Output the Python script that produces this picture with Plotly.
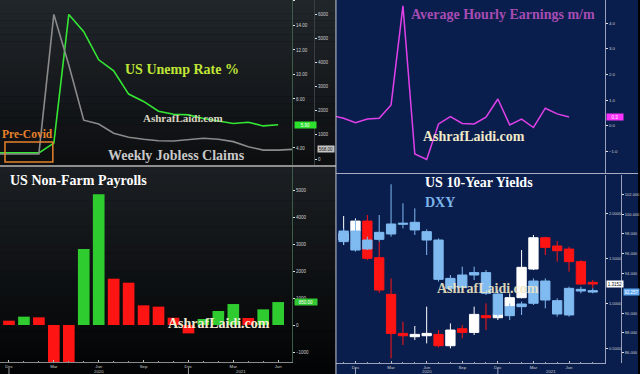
import plotly.graph_objects as go

W, H = 640, 374


def fx(p):
    return p / W


def fy(p):
    return 1 - p / H


# ---------------- data ----------------
months = ["Oct 2019", "Nov 2019", "Dec 2019", "Jan 2020", "Feb 2020", "Mar 2020",
          "Apr 2020", "May 2020", "Jun 2020", "Jul 2020", "Aug 2020", "Sep 2020",
          "Oct 2020", "Nov 2020", "Dec 2020", "Jan 2021", "Feb 2021", "Mar 2021",
          "Apr 2021", "May 2021", "Jun 2021", "Jul 2021", "Aug 2021"]
pos = {m: i for i, m in enumerate(months)}

tick_months = ["Dec 2019", "Mar 2020", "Jun 2020", "Sep 2020", "Dec 2020", "Mar 2021", "Jun 2021"]
tick_labels = ["Dec", "Mar", "Jun", "Sep", "Dec", "Mar", "Jun"]

# US unemployment rate % (Nov 2019 .. Jun 2021)
unemp_months = months[1:21]
unemp_rate = [3.6, 3.6, 3.6, 3.6, 4.4, 14.9, 13.5, 11.2, 10.3, 8.4, 7.8, 7.0,
              6.75, 6.7, 6.4, 6.2, 6.0, 6.1, 5.8, 5.9]

# Weekly jobless claims, thousands (Nov 2019 .. Jul 2021)
claims_months = months[1:22]
jobless_claims = [210, 210, 210, 210, 6000, 3900, 1610, 1450, 1070, 900, 820, 760,
                  750, 790, 860, 820, 720, 510, 370, 370, 400]

# Non-farm payrolls change, thousands (Dec 2019 .. Jun 2021)
nfp_months = months[2:21]
nfp = [160, 310, 285, -1373, -20500, 2815, 4840, 1715, 1567, 730, 680, 270,
       -310, 222, 518, 777, 260, 580, 850]
nfp_prior = 261  # Nov 2019

# Average hourly earnings m/m % (Oct 2019 .. Jun 2021)
ahe_months = months[0:21]
ahe = [0.4, 0.3, 0.13, 0.27, 0.30, 0.82, 4.67, -1.09, -1.30, 0.08, 0.36, 0.10,
       0.08, 0.34, 1.05, 0.04, 0.27, -0.06, 0.69, 0.47, 0.35]

# Monthly candles (Nov 2019 .. Aug 2021)
candle_months = months[1:23]
yld_open = [1.703, 1.803, 1.914, 1.507, 1.100, 0.666, 0.629, 0.640, 0.655, 0.529, 0.718,
            0.677, 0.863, 0.840, 0.963, 1.063, 1.381, 1.729, 1.637, 1.603, 1.463, 1.233]
yld_close = [1.777, 1.914, 1.500, 1.148, 0.666, 0.640, 0.655, 0.666, 0.529, 0.703, 0.677,
             0.877, 0.840, 0.881, 1.063, 1.400, 1.729, 1.622, 1.585, 1.463, 1.214, 1.214]
yld_high = [1.970, 1.944, 1.981, 1.685, 1.277, 0.796, 0.748, 0.963, 0.703, 0.777, 0.759,
            0.963, 1.000, 1.074, 1.111, 1.592, 1.759, 1.740, 1.692, 1.629, 1.481, 1.259]
yld_low = [1.648, 1.777, 1.481, 1.118, 0.389, 0.537, 0.592, 0.555, 0.511, 0.500, 0.611,
           0.648, 0.703, 0.814, 0.955, 1.055, 1.370, 1.537, 1.463, 1.351, 1.203, 1.166]

dxy_open = [97.22, 98.29, 96.48, 97.45, 97.99, 98.97, 99.17, 98.23, 97.38, 93.51, 92.60,
            93.85, 94.09, 91.93, 89.74, 90.65, 90.99, 93.24, 91.26, 89.81, 92.40, 92.27]
dxy_close = [98.29, 96.37, 97.38, 98.16, 99.00, 99.07, 98.40, 97.38, 93.41, 92.50, 93.85,
             94.09, 92.00, 89.88, 90.65, 90.92, 93.24, 91.32, 89.91, 92.50, 92.23, 92.13]
dxy_high = [98.56, 99.41, 97.72, 99.91, 103.01, 101.09, 100.58, 98.46, 97.55, 93.85, 94.69,
            94.69, 94.35, 92.33, 90.99, 91.16, 93.51, 93.51, 91.49, 92.67, 92.67, 92.50]
dxy_low = [96.88, 96.21, 96.37, 97.22, 97.72, 98.56, 97.89, 95.87, 93.18, 92.27, 92.33,
           93.34, 91.83, 89.64, 89.30, 89.81, 90.82, 90.48, 89.64, 89.64, 92.00, 92.00]

badge_unemp = "5.90"
badge_claims = "568.00"
badge_nfp = "850.00"
badge_ahe = "0.3"
badge_yld = "1.3152"
badge_dxy = "92.257"

# ---------------- colours ----------------
GREEN = "#35e635"
RED = "#ff1414"
BLUE = "#7fbaf0"
NAVY = "#0a1e4e"
SERIF = "Liberation Serif, Times New Roman, serif"
SANS = "Liberation Sans, Arial, sans-serif"

fig = go.Figure()

# top-left
fig.add_trace(go.Scatter(x=[pos[m] for m in unemp_months], y=unemp_rate, mode="lines",
                         line=dict(color=GREEN, width=1.6), xaxis="x", yaxis="y"))
fig.add_trace(go.Scatter(x=[pos[m] for m in claims_months], y=jobless_claims, mode="lines",
                         line=dict(color="#8a8a8a", width=1.6), xaxis="x", yaxis="y2"))

# bottom-left bars (green when higher than previous month, red otherwise)
prev = [nfp_prior] + nfp[:-1]
bar_colors = ["#2fcc2f" if v > p else RED for v, p in zip(nfp, prev)]
fig.add_trace(go.Bar(x=[pos[m] for m in nfp_months], y=nfp, width=0.78,
                     marker=dict(color=bar_colors, line=dict(width=0)),
                     xaxis="x2", yaxis="y3"))

# top-right
fig.add_trace(go.Scatter(x=[pos[m] for m in ahe_months], y=ahe, mode="lines",
                         line=dict(color="#e040e8", width=1.5), xaxis="x3", yaxis="y4"))

# bottom-right candles
cx = [pos[m] for m in candle_months]
fig.add_trace(go.Candlestick(x=cx, open=yld_open, high=yld_high, low=yld_low, close=yld_close,
                             increasing=dict(line=dict(color="#ffffff", width=1), fillcolor="#ffffff"),
                             decreasing=dict(line=dict(color=RED, width=1), fillcolor=RED),
                             whiskerwidth=0, xaxis="x4", yaxis="y5"))
fig.add_trace(go.Candlestick(x=cx, open=dxy_open, high=dxy_high, low=dxy_low, close=dxy_close,
                             increasing=dict(line=dict(color=BLUE, width=1), fillcolor=BLUE),
                             decreasing=dict(line=dict(color=BLUE, width=1), fillcolor=BLUE),
                             whiskerwidth=0, xaxis="x4", yaxis="y6"))

# ---------------- axes ----------------
left_range = [1.4, 20.93]
right_range = [0.353, 23.04]


def tickfont(size=4.5):
    return dict(family=SANS, size=size, color="#d0d0d0")


base_y = dict(showgrid=False, zeroline=False, ticks="outside", ticklen=2, tickwidth=1,
              tickcolor="#e0e0e0", side="right")

xaxis_hidden = dict(showgrid=False, zeroline=False, showticklabels=False, ticks="",
                    showline=False, fixedrange=True)

xaxis_labelled = dict(showgrid=False, zeroline=False, ticks="inside", ticklen=2,
                      tickcolor="#c0c0c0", tickvals=[pos[m] for m in tick_months],
                      ticktext=tick_labels, tickfont=tickfont(4.3), showline=True,
                      linewidth=1,
                      minor=dict(dtick=1, tick0=0, ticks="inside", ticklen=1.5,
                                 tickcolor="#a0a0a0"))

fig.update_layout(
    width=W, height=H, margin=dict(l=0, r=0, t=0, b=0),
    paper_bgcolor="#000000", plot_bgcolor="rgba(0,0,0,0)",
    showlegend=False, boxgap=0.215, boxgroupgap=0, bargap=0.22,
    xaxis=dict(xaxis_hidden, domain=[0, fx(293)], range=left_range, anchor="y"),
    yaxis=dict(base_y, domain=[fy(165), 1], range=[2.61, 16.08], anchor="x",
               tickvals=[4, 8, 10, 12, 14, 16], tickformat=".2f", tickfont=tickfont(4.5),
               showline=True, linecolor="#3d5c46", linewidth=1),
    yaxis2=dict(base_y, overlaying="y", anchor="free", position=fx(315),
                range=[-249, 6598], tickvals=[0, 1000, 2000, 3000, 4000, 5000, 6000],
                tickformat="d", tickfont=tickfont(4.5), showline=True,
                linecolor="#3a3f44", linewidth=1),
    xaxis2=dict(xaxis_labelled, domain=[0, fx(293)], range=left_range, anchor="y3",
                linecolor="#8a8a8a"),
    yaxis3=dict(base_y, domain=[fy(362), fy(167)], range=[-1370, 5852], anchor="x2",
                tickvals=[-1000, 0, 1000, 2000, 3000, 4000, 5000], tickformat="d",
                tickfont=tickfont(4.5), showline=True, linecolor="#3d5c46", linewidth=1),
    xaxis3=dict(xaxis_hidden, domain=[fx(337), fx(607)], range=right_range, anchor="y4"),
    yaxis4=dict(base_y, domain=[fy(173), 1], range=[-1.83, 4.90], anchor="x3",
                tickvals=[-1, 0, 1, 2, 3, 4], tickformat=".1f", tickfont=tickfont(4.3),
                showline=True, linecolor="#9aa2bc", linewidth=1),
    xaxis4=dict(xaxis_labelled, domain=[fx(337), fx(607)], range=right_range, anchor="y5",
                linecolor="#9aa2bc", rangeslider=dict(visible=False)),
    yaxis5=dict(base_y, domain=[fy(363), fy(175)], range=[0.337, 2.426], anchor="x4",
                tickvals=[0.5, 1.0, 1.5, 2.0], tickformat=".4f", tickfont=tickfont(4),
                showline=True, linecolor="#9aa2bc", linewidth=1),
    yaxis6=dict(base_y, overlaying="y5", anchor="free", position=fx(623),
                range=[84.96, 103.95], tickvals=[86, 88, 90, 94, 96, 98, 100, 102],
                tickformat=".3f", tickfont=tickfont(4), showline=True,
                linecolor="#9aa2bc", linewidth=1),
)

# ---------------- backgrounds (shapes below traces) ----------------
shapes = []


def band(x0, x1, y0, y1, c0, c1, n=24):
    out = []
    for k in range(n):
        t = k / (n - 1)
        c = tuple(int(round(a + (b - a) * t)) for a, b in zip(c0, c1))
        ya = y0 + (y1 - y0) * k / n
        yb = y0 + (y1 - y0) * (k + 1) / n
        out.append(dict(type="rect", xref="paper", yref="paper", layer="below",
                        x0=fx(x0), x1=fx(x1), y0=fy(yb), y1=fy(ya) + 0.001,
                        fillcolor="rgb(%d,%d,%d)" % c, line=dict(width=0)))
    return out


shapes += band(0, 337, 0, 166, (33, 38, 43), (12, 14, 16))
shapes += band(0, 337, 166, 374, (27, 31, 35), (3, 4, 5))
shapes.append(dict(type="rect", xref="paper", yref="paper", layer="below",
                   x0=fx(337), x1=1, y0=0, y1=1, fillcolor=NAVY, line=dict(width=0)))
# separators
shapes.append(dict(type="line", xref="paper", yref="paper", x0=0, x1=fx(337),
                   y0=fy(166), y1=fy(166), line=dict(color="#8e8e8e", width=2)))
shapes.append(dict(type="line", xref="paper", yref="paper", x0=fx(337), x1=fx(337),
                   y0=0, y1=1, line=dict(color="#c8ccd4", width=1)))
shapes.append(dict(type="line", xref="paper", yref="paper", x0=fx(337), x1=1,
                   y0=fy(173.5), y1=fy(173.5), line=dict(color="#a8aec0", width=1)))
# year separator ticks
for m in ["Dec 2019", "Dec 2020"]:
    shapes.append(dict(type="line", xref="x2", yref="paper", x0=pos[m], x1=pos[m],
                       y0=fy(374), y1=fy(368), line=dict(color="#9a9a9a", width=1)))
    shapes.append(dict(type="line", xref="x4", yref="paper", x0=pos[m], x1=pos[m],
                       y0=fy(374), y1=fy(368), line=dict(color="#9aa2bc", width=1)))
# Pre-Covid box
shapes.append(dict(type="rect", xref="paper", yref="paper", x0=fx(5), x1=fx(53),
                   y0=fy(162), y1=fy(142), line=dict(color="#e8822c", width=1.5)))
fig.update_layout(shapes=shapes)

# ---------------- annotations ----------------
ann = []


def label(text, x, y, color, size=14, xanchor="center", opacity=1.0):
    ann.append(dict(text="<b>%s</b>" % text, x=fx(x), y=fy(y), xref="paper", yref="paper",
                    xanchor=xanchor, yanchor="middle", showarrow=False, opacity=opacity,
                    font=dict(family=SERIF, size=size, color=color)))


label("US Unemp Rate %", 182.5, 70, "#c0e636")
label("Pre-Covid", 28, 133.5, "#e8822c", size=11.5)
label("Weekly Jobless Claims", 177, 155, "#c8c8c8")
label("AshrafLaidi.com", 183.5, 118, "#d9d4c0", size=11)
label("US Non-Farm Payrolls", 78.5, 181, "#ffffff")
label("AshrafLaidi.com", 219.5, 323, "#f2ecd2")
label("Average Hourly Earnings m/m", 505, 14, "#a64cb2")
label("AshrafLaidi.com", 475.5, 136, "#efe9c9")
label("US 10-Year Yields", 480, 183, "#ffffff")
label("DXY", 424, 202, "#7cb6ea", xanchor="left")
label("AshrafLaidi.com", 490, 288, "#efe7c4", opacity=0.9)

# year labels
for xr, xv, yr in [("x2", pos["Jun 2020"], "2020"),
                   ("x2", (pos["Mar 2021"] + pos["Apr 2021"]) / 2, "2021"),
                   ("x4", pos["Jun 2020"], "2020"),
                   ("x4", (pos["Apr 2021"] + pos["May 2021"]) / 2, "2021")]:
    ann.append(dict(text=yr, x=xv, y=fy(371.2), xref=xr, yref="paper", showarrow=False,
                    xanchor="center", yanchor="middle", borderpad=0,
                    font=dict(family=SANS, size=4.3, color="#c8c8c8")))


def badge(text, x, yref, yval, bg, fg, w):
    ann.append(dict(text=text, x=fx(x), y=yval, xref="paper", yref=yref, showarrow=False,
                    xanchor="left", yanchor="middle", bgcolor=bg, borderpad=0.5,
                    width=w, height=5, align="center",
                    font=dict(family=SANS, size=4.5, color=fg)))


badge(badge_unemp, 295, "y", unemp_rate[-1], "#2ee02e", "#ffffff", 20)
badge(badge_claims, 318, "y2", jobless_claims[-1], "#c4c4c4", "#111111", 15)
badge(badge_nfp, 295, "y3", nfp[-1], "#33c833", "#ffffff", 21)
badge(badge_ahe, 608, "y4", ahe[-1], "#ff33ff", "#ffffff", 15)
badge(badge_yld, 608, "y5", yld_close[-1], "#ffffff", "#111111", 15)
badge(badge_dxy, 625, "y6", dxy_close[-1], "#5fa9f2", "#ffffff", 14)

fig.update_layout(annotations=ann)

fig.write_html("out.html", config={"displayModeBar": False},
               post_script="document.body.style.margin='0px';document.body.style.overflow='hidden';")
